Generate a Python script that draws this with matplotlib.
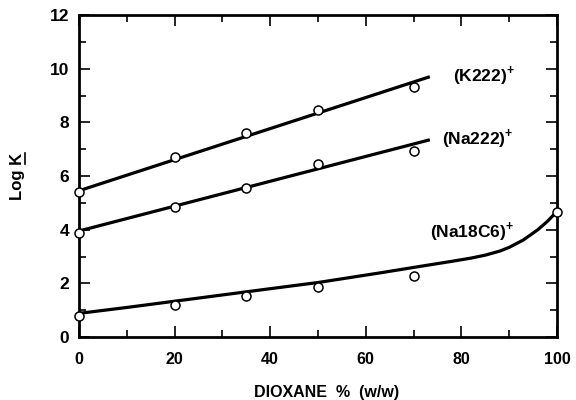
import matplotlib
matplotlib.use("Agg")
import matplotlib.pyplot as plt
from matplotlib.ticker import MultipleLocator
from matplotlib.lines import Line2D

plt.rcParams['font.family'] = ['Liberation Sans', 'DejaVu Sans']
plt.rcParams['font.weight'] = 'bold'
plt.rcParams['mathtext.fontset'] = 'custom'
plt.rcParams['mathtext.rm'] = 'Liberation Sans:bold'
plt.rcParams['mathtext.bf'] = 'Liberation Sans:bold'

# Data points
x_pts = [0, 20, 35, 50, 70]
k222_pts = [5.41, 6.72, 7.6, 8.47, 9.33]
na222_pts = [3.88, 4.85, 5.56, 6.45, 6.94]
na18c6_x = [0, 20, 35, 50, 70, 100]
na18c6_pts = [0.78, 1.19, 1.53, 1.87, 2.28, 4.66]

# Fitted lines
k222_line_x = [0, 73.4]
k222_line_y = [5.45, 9.7]
na222_line_x = [0, 73.4]
na222_line_y = [3.95, 7.35]
na18c6_curve_x = [0, 10, 25, 40, 50, 63, 73.4, 78, 82, 85, 88, 90, 93, 96, 98, 100]
na18c6_curve_y = [0.88, 1.1, 1.45, 1.8, 2.03, 2.39, 2.69, 2.82, 2.94, 3.05, 3.2, 3.34, 3.62, 4.0, 4.31, 4.68]

labels = [r'(K222)$^{\mathbf{+}}$', r'(Na222)$^{\mathbf{+}}$', r'(Na18C6)$^{\mathbf{+}}$']

fig = plt.figure(figsize=(5.76, 4.0), dpi=100)
ax = fig.add_axes([0.137, 0.1575, 0.83, 0.805])

lw = 2.3
ax.plot(k222_line_x, k222_line_y, color='black', lw=lw, zorder=2, solid_capstyle='butt')
ax.plot(na222_line_x, na222_line_y, color='black', lw=lw, zorder=2, solid_capstyle='butt')
ax.plot(na18c6_curve_x, na18c6_curve_y, color='black', lw=lw, zorder=2, solid_joinstyle='round')

mk = dict(marker='o', ls='none', mfc='white', mec='black', ms=6.5, mew=1.1, zorder=3, clip_on=False)
ax.plot(x_pts, k222_pts, **mk)
ax.plot(x_pts, na222_pts, **mk)
ax.plot(na18c6_x, na18c6_pts, **mk)

ax.text(78.3, 9.75, labels[0], fontsize=12.5, fontweight='bold', va='center', ha='left')
ax.text(76.0, 7.4, labels[1], fontsize=12.5, fontweight='bold', va='center', ha='left')
ax.text(73.4, 3.95, labels[2], fontsize=12.5, fontweight='bold', va='center', ha='left')

ax.set_xlim(0, 100)
ax.set_ylim(0, 12)
ax.xaxis.set_major_locator(MultipleLocator(20))
ax.xaxis.set_minor_locator(MultipleLocator(10))
ax.yaxis.set_major_locator(MultipleLocator(2))
ax.yaxis.set_minor_locator(MultipleLocator(1))
ax.tick_params(which='both', direction='in', top=True, right=True, width=1.2)
ax.tick_params(axis='x', pad=11, labelsize=11.5)
ax.tick_params(axis='y', pad=7, labelsize=12.5)
ax.tick_params(which='major', length=8)
ax.tick_params(which='minor', length=5)
for lab in ax.get_xticklabels() + ax.get_yticklabels():
    lab.set_fontweight('bold')
for s in ax.spines.values():
    s.set_linewidth(2.0)

ax.set_xlabel('DIOXANE  %  (w/w)', fontsize=11.5, fontweight='bold', va='center')
ax.xaxis.set_label_coords(0.517, -55.0 / 322.0)
ylab = ax.set_ylabel('Log K', fontsize=12, fontweight='bold', labelpad=18)

# underline the K in the y label (rotated text: the underline lies on its right)
fig.canvas.draw()
r = fig.canvas.get_renderer()
bb = ylab.get_window_extent(r)
W, H = fig.get_size_inches() * fig.dpi
x_ul = (bb.x1 + 0.5) / W
y1 = (bb.y1 - 0.5) / H
y0 = (bb.y1 - 0.25 * bb.height) / H
fig.add_artist(Line2D([x_ul, x_ul], [y0, y1], color='black', lw=1.2, transform=fig.transFigure))

fig.savefig('out.png', dpi=100)
